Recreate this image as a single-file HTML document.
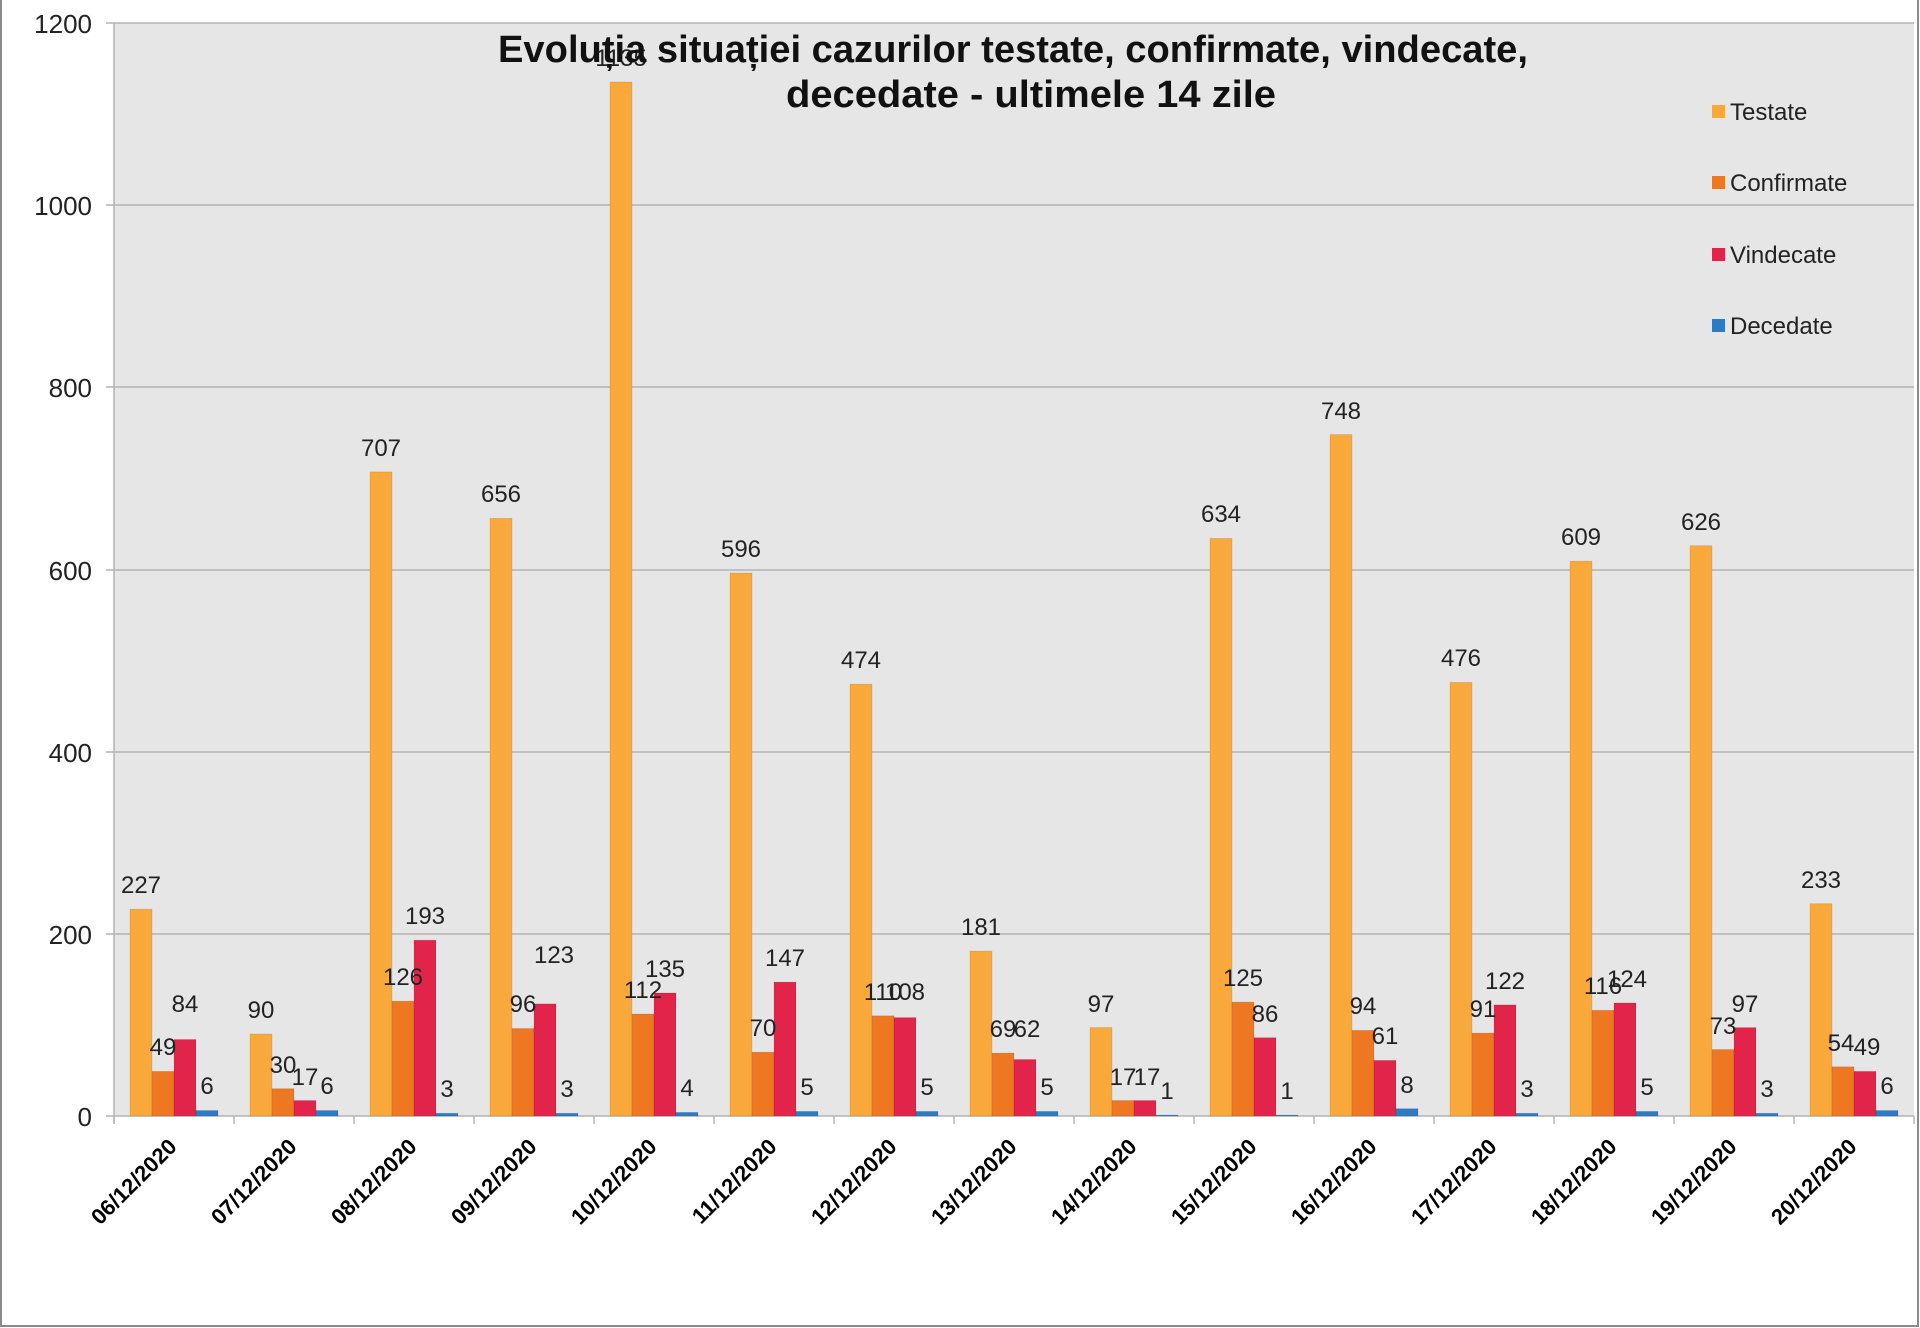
<!DOCTYPE html>
<html><head><meta charset="utf-8"><style>html,body{margin:0;padding:0;background:#fff}svg{display:block}</style></head>
<body>
<svg width="1920" height="1328" viewBox="0 0 1920 1328" xmlns="http://www.w3.org/2000/svg" font-family="Liberation Sans, Arial, sans-serif">
<defs><style>
.a{fill:#f9a93b}.b{fill:#ee7722}.c{fill:#e2244a}.d{fill:#2d7cc1}
rect.a,rect.b,rect.c,rect.d{stroke:rgba(0,0,0,0.12);stroke-width:0.8}
.l{font-size:24px;fill:#222;text-anchor:middle}
.x{font-size:22px;font-weight:bold;fill:#000;text-anchor:end}
.t{stroke:#b4b4b4;stroke-width:1.5}
</style></defs>
<rect x="0" y="0" width="1920" height="1328" fill="#fff"/>
<rect x="1" y="-2" width="1917" height="1328" fill="none" stroke="#8a8a8a" stroke-width="2"/>
<rect x="114" y="23" width="1800" height="1093" fill="#e6e6e6"/>
<g stroke="#b4b4b4" stroke-width="1.5">
<line x1="106" y1="23" x2="1914" y2="23"/>
<line x1="106" y1="205" x2="1914" y2="205"/>
<line x1="106" y1="387" x2="1914" y2="387"/>
<line x1="106" y1="570" x2="1914" y2="570"/>
<line x1="106" y1="752" x2="1914" y2="752"/>
<line x1="106" y1="934" x2="1914" y2="934"/>
<line x1="106" y1="1116" x2="1914" y2="1116"/>
<line x1="114" y1="23" x2="114" y2="1124"/>
<line x1="1914" y1="1116" x2="1914" y2="1124"/>
</g>
<g font-size="26" fill="#222" text-anchor="end">
<text x="92" y="33">1200</text><text x="92" y="215">1000</text><text x="92" y="397">800</text>
<text x="92" y="580">600</text><text x="92" y="762">400</text><text x="92" y="944">200</text><text x="92" y="1126">0</text>
</g>

<g transform="translate(114,0)"><line class="t" x1="0" y1="1116" x2="0" y2="1124"/>
<rect class="a" x="16" y="909.2" width="22" height="206.8"/><rect class="b" x="38" y="1071.4" width="22" height="44.6"/><rect class="c" x="60" y="1039.5" width="22" height="76.5"/><rect class="d" x="82" y="1110.5" width="22" height="5.5"/>
<text class="l" x="27" y="893">227</text><text class="l" x="49" y="1055">49</text><text class="l" x="71" y="1012">84</text><text class="l" x="93" y="1094">6</text>
<text class="x" transform="translate(64,1148) rotate(-45)">06/12/2020</text></g>

<g transform="translate(234,0)"><line class="t" x1="0" y1="1116" x2="0" y2="1124"/>
<rect class="a" x="16" y="1034" width="22" height="82"/><rect class="b" x="38" y="1088.7" width="22" height="27.3"/><rect class="c" x="60" y="1100.5" width="22" height="15.5"/><rect class="d" x="82" y="1110.5" width="22" height="5.5"/>
<text class="l" x="27" y="1018">90</text><text class="l" x="49" y="1073">30</text><text class="l" x="71" y="1085">17</text><text class="l" x="93" y="1094">6</text>
<text class="x" transform="translate(64,1148) rotate(-45)">07/12/2020</text></g>

<g transform="translate(354,0)"><line class="t" x1="0" y1="1116" x2="0" y2="1124"/>
<rect class="a" x="16" y="471.9" width="22" height="644.1"/><rect class="b" x="38" y="1001.2" width="22" height="114.8"/><rect class="c" x="60" y="940.2" width="22" height="175.8"/><rect class="d" x="82" y="1113.3" width="22" height="2.7"/>
<text class="l" x="27" y="456">707</text><text class="l" x="49" y="985">126</text><text class="l" x="71" y="924">193</text><text class="l" x="93" y="1097">3</text>
<text class="x" transform="translate(64,1148) rotate(-45)">08/12/2020</text></g>

<g transform="translate(474,0)"><line class="t" x1="0" y1="1116" x2="0" y2="1124"/>
<rect class="a" x="16" y="518.4" width="22" height="597.6"/><rect class="b" x="38" y="1028.5" width="22" height="87.5"/><rect class="c" x="60" y="1003.9" width="22" height="112.1"/><rect class="d" x="82" y="1113.3" width="22" height="2.7"/>
<text class="l" x="27" y="502">656</text><text class="l" x="49" y="1012">96</text><text class="l" x="80" y="963">123</text><text class="l" x="93" y="1097">3</text>
<text class="x" transform="translate(64,1148) rotate(-45)">09/12/2020</text></g>

<g transform="translate(594,0)"><line class="t" x1="0" y1="1116" x2="0" y2="1124"/>
<rect class="a" x="16" y="82" width="22" height="1034"/><rect class="b" x="38" y="1014" width="22" height="102"/><rect class="c" x="60" y="993" width="22" height="123"/><rect class="d" x="82" y="1112.4" width="22" height="3.6"/>
<text class="l" x="27" y="66">1135</text><text class="l" x="49" y="998">112</text><text class="l" x="71" y="977">135</text><text class="l" x="93" y="1096">4</text>
<text class="x" transform="translate(64,1148) rotate(-45)">10/12/2020</text></g>

<g transform="translate(714,0)"><line class="t" x1="0" y1="1116" x2="0" y2="1124"/>
<rect class="a" x="16" y="573" width="22" height="543"/><rect class="b" x="38" y="1052.2" width="22" height="63.8"/><rect class="c" x="60" y="982.1" width="22" height="133.9"/><rect class="d" x="82" y="1111.4" width="22" height="4.6"/>
<text class="l" x="27" y="557">596</text><text class="l" x="49" y="1036">70</text><text class="l" x="71" y="966">147</text><text class="l" x="93" y="1095">5</text>
<text class="x" transform="translate(64,1148) rotate(-45)">11/12/2020</text></g>

<g transform="translate(834,0)"><line class="t" x1="0" y1="1116" x2="0" y2="1124"/>
<rect class="a" x="16" y="684.2" width="22" height="431.8"/><rect class="b" x="38" y="1015.8" width="22" height="100.2"/><rect class="c" x="60" y="1017.6" width="22" height="98.4"/><rect class="d" x="82" y="1111.4" width="22" height="4.6"/>
<text class="l" x="27" y="668">474</text><text class="l" x="49" y="1000">110</text><text class="l" x="71" y="1000">108</text><text class="l" x="93" y="1095">5</text>
<text class="x" transform="translate(64,1148) rotate(-45)">12/12/2020</text></g>

<g transform="translate(954,0)"><line class="t" x1="0" y1="1116" x2="0" y2="1124"/>
<rect class="a" x="16" y="951.1" width="22" height="164.9"/><rect class="b" x="38" y="1053.1" width="22" height="62.9"/><rect class="c" x="60" y="1059.5" width="22" height="56.5"/><rect class="d" x="82" y="1111.4" width="22" height="4.6"/>
<text class="l" x="27" y="935">181</text><text class="l" x="49" y="1037">69</text><text class="l" x="73" y="1037">62</text><text class="l" x="93" y="1095">5</text>
<text class="x" transform="translate(64,1148) rotate(-45)">13/12/2020</text></g>

<g transform="translate(1074,0)"><line class="t" x1="0" y1="1116" x2="0" y2="1124"/>
<rect class="a" x="16" y="1027.6" width="22" height="88.4"/><rect class="b" x="38" y="1100.5" width="22" height="15.5"/><rect class="c" x="60" y="1100.5" width="22" height="15.5"/><rect class="d" x="82" y="1115.1" width="22" height="0.9"/>
<text class="l" x="27" y="1012">97</text><text class="l" x="49" y="1085">17</text><text class="l" x="73" y="1085">17</text><text class="l" x="93" y="1099">1</text>
<text class="x" transform="translate(64,1148) rotate(-45)">14/12/2020</text></g>

<g transform="translate(1194,0)"><line class="t" x1="0" y1="1116" x2="0" y2="1124"/>
<rect class="a" x="16" y="538.4" width="22" height="577.6"/><rect class="b" x="38" y="1002.1" width="22" height="113.9"/><rect class="c" x="60" y="1037.7" width="22" height="78.3"/><rect class="d" x="82" y="1115.1" width="22" height="0.9"/>
<text class="l" x="27" y="522">634</text><text class="l" x="49" y="986">125</text><text class="l" x="71" y="1022">86</text><text class="l" x="93" y="1099">1</text>
<text class="x" transform="translate(64,1148) rotate(-45)">15/12/2020</text></g>

<g transform="translate(1314,0)"><line class="t" x1="0" y1="1116" x2="0" y2="1124"/>
<rect class="a" x="16" y="434.6" width="22" height="681.4"/><rect class="b" x="38" y="1030.4" width="22" height="85.6"/><rect class="c" x="60" y="1060.4" width="22" height="55.6"/><rect class="d" x="82" y="1108.7" width="22" height="7.3"/>
<text class="l" x="27" y="419">748</text><text class="l" x="49" y="1014">94</text><text class="l" x="71" y="1044">61</text><text class="l" x="93" y="1093">8</text>
<text class="x" transform="translate(64,1148) rotate(-45)">16/12/2020</text></g>

<g transform="translate(1434,0)"><line class="t" x1="0" y1="1116" x2="0" y2="1124"/>
<rect class="a" x="16" y="682.4" width="22" height="433.6"/><rect class="b" x="38" y="1033.1" width="22" height="82.9"/><rect class="c" x="60" y="1004.9" width="22" height="111.1"/><rect class="d" x="82" y="1113.3" width="22" height="2.7"/>
<text class="l" x="27" y="666">476</text><text class="l" x="49" y="1017">91</text><text class="l" x="71" y="989">122</text><text class="l" x="93" y="1097">3</text>
<text class="x" transform="translate(64,1148) rotate(-45)">17/12/2020</text></g>

<g transform="translate(1554,0)"><line class="t" x1="0" y1="1116" x2="0" y2="1124"/>
<rect class="a" x="16" y="561.2" width="22" height="554.8"/><rect class="b" x="38" y="1010.3" width="22" height="105.7"/><rect class="c" x="60" y="1003" width="22" height="113"/><rect class="d" x="82" y="1111.4" width="22" height="4.6"/>
<text class="l" x="27" y="545">609</text><text class="l" x="49" y="994">116</text><text class="l" x="73" y="987">124</text><text class="l" x="93" y="1095">5</text>
<text class="x" transform="translate(64,1148) rotate(-45)">18/12/2020</text></g>

<g transform="translate(1674,0)"><line class="t" x1="0" y1="1116" x2="0" y2="1124"/>
<rect class="a" x="16" y="545.7" width="22" height="570.3"/><rect class="b" x="38" y="1049.5" width="22" height="66.5"/><rect class="c" x="60" y="1027.6" width="22" height="88.4"/><rect class="d" x="82" y="1113.3" width="22" height="2.7"/>
<text class="l" x="27" y="530">626</text><text class="l" x="49" y="1034">73</text><text class="l" x="71" y="1012">97</text><text class="l" x="93" y="1097">3</text>
<text class="x" transform="translate(64,1148) rotate(-45)">19/12/2020</text></g>

<g transform="translate(1794,0)"><line class="t" x1="0" y1="1116" x2="0" y2="1124"/>
<rect class="a" x="16" y="903.7" width="22" height="212.3"/><rect class="b" x="38" y="1066.8" width="22" height="49.2"/><rect class="c" x="60" y="1071.4" width="22" height="44.6"/><rect class="d" x="82" y="1110.5" width="22" height="5.5"/>
<text class="l" x="27" y="888">233</text><text class="l" x="47" y="1051">54</text><text class="l" x="73" y="1055">49</text><text class="l" x="93" y="1094">6</text>
<text class="x" transform="translate(64,1148) rotate(-45)">20/12/2020</text></g>

<g font-size="24" fill="#222">
<rect x="1712" y="105" width="13" height="13" fill="#f9a93b"/><text x="1730" y="120">Testate</text>
<rect x="1712" y="176" width="13" height="13" fill="#ee7722"/><text x="1730" y="191">Confirmate</text>
<rect x="1712" y="248" width="13" height="13" fill="#e2244a"/><text x="1730" y="263">Vindecate</text>
<rect x="1712" y="319" width="13" height="13" fill="#2d7cc1"/><text x="1730" y="334">Decedate</text>
</g>
<g font-weight="bold" font-size="38" fill="#111" text-anchor="middle">
<text x="1013" y="62" textLength="1030" lengthAdjust="spacingAndGlyphs">Evoluția situației cazurilor testate, confirmate, vindecate,</text>
<text x="1031" y="107" textLength="490" lengthAdjust="spacingAndGlyphs">decedate -  ultimele 14 zile</text>
</g>
</svg>
</body></html>
